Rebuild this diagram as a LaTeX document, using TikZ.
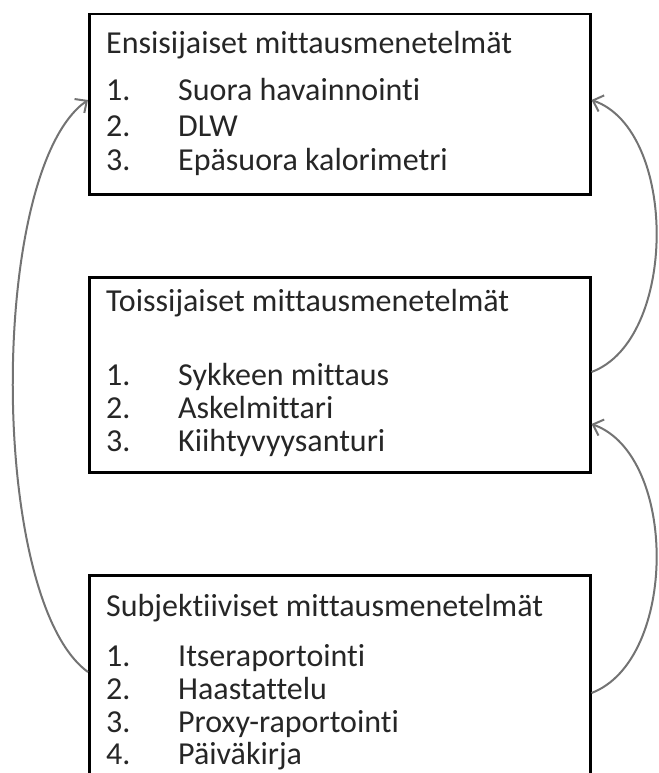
\documentclass[tikz,border=0pt]{standalone}
\usepackage{fontspec}
\setmainfont{Carlito}[Ligatures=NoCommon]
\usetikzlibrary{arrows.meta}

\begin{document}
\begin{tikzpicture}[x=1pt,y=-1pt,
    box/.style={draw=black, line width=2.5pt, minimum width=501pt,
      anchor=north west, inner sep=0pt},
    txt/.style={anchor=base west, inner sep=0pt, text=black!85,
      font=\fontsize{32}{38}\selectfont},
    conn/.style={draw=black!55, line width=2pt,
      -{Straight Barb[length=9pt,width=17pt]}}]

      \useasboundingbox (0,0) rectangle (658,773);
      \clip (0,0) rectangle (658,773);

      % The three boxes.
      \node [box, minimum height=180pt] (b1) at (88,13) {};
      \node [box, minimum height=195pt] (b2) at (88,276) {};
      \node [box, minimum height=260pt] (b3) at (88,574) {};

      % Primary methods.
      \node [txt] (h1) at (106,54) {Ensisijaiset mittausmenetelmät};
      \node [txt] (n11) at (106,101) {1.};
      \node [txt] (i11) at (178,101) {Suora havainnointi};
      \node [txt] (n12) at (106,136) {2.};
      \node [txt] (i12) at (178,136) {DLW};
      \node [txt] (n13) at (106,170) {3.};
      \node [txt] (i13) at (178,170) {Epäsuora kalorimetri};

      % Secondary methods.
      \node [txt] (h2) at (106,311) {Toissijaiset mittausmenetelmät};
      \node [txt] (n21) at (106,385) {1.};
      \node [txt] (i21) at (178,385) {Sykkeen mittaus};
      \node [txt] (n22) at (106,418) {2.};
      \node [txt] (i22) at (178,418) {Askelmittari};
      \node [txt] (n23) at (106,451) {3.};
      \node [txt] (i23) at (178,451) {Kiihtyvyysanturi};

      % Subjective methods.
      \node [txt] (h3) at (106,616) {Subjektiiviset mittausmenetelmät};
      \node [txt] (n31) at (106,666) {1.};
      \node [txt] (i31) at (178,666) {Itseraportointi};
      \node [txt] (n32) at (106,699) {2.};
      \node [txt] (i32) at (178,699) {Haastattelu};
      \node [txt] (n33) at (106,732) {3.};
      \node [txt] (i33) at (178,732) {Proxy-raportointi};
      \node [txt] (n34) at (106,764) {4.};
      \node [txt] (i34) at (178,764) {Päiväkirja};

      % Subjective back to primary, round the left side.
      \draw [conn] (b3.west |- 0,672) .. controls (-12,600) and (-12,170)
      .. (b1.west |- 0,100);

      % Secondary up to primary, round the right side.
      \draw [conn] (b2.east |- 0,372) .. controls (678,340) and (678,130)
      .. (b1.east |- 0,100);

      % Subjective up to secondary.
      \draw [conn] (b3.east |- 0,693) .. controls (678,660) and (678,455)
      .. (b2.east |- 0,424);
    \end{tikzpicture}
\end{document}
